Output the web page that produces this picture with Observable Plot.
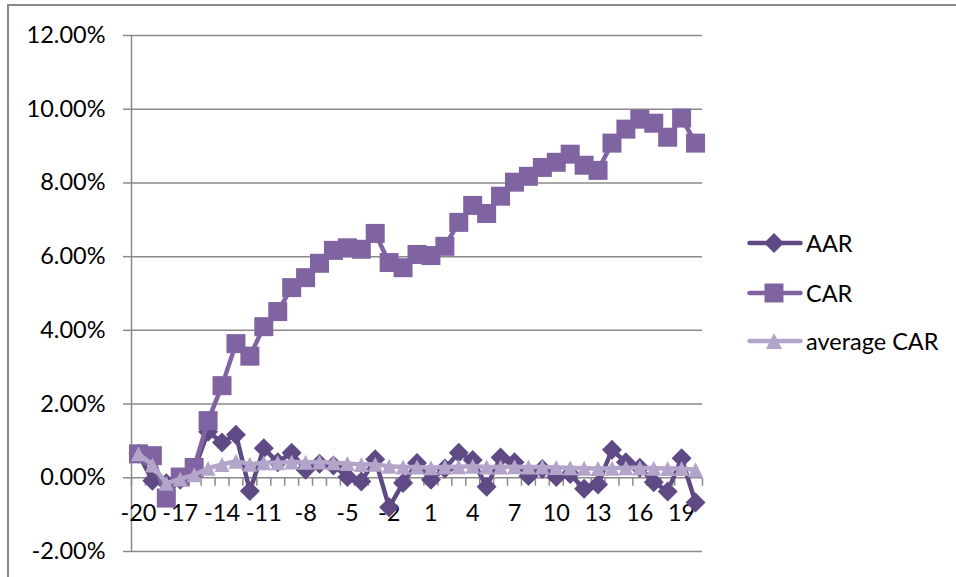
<!DOCTYPE html>
<html>
<head>
<meta charset="utf-8">
<script src="https://cdn.jsdelivr.net/npm/d3@7"></script>
<script src="https://cdn.jsdelivr.net/npm/@observablehq/plot@0.6"></script>
<style>
  html, body { margin: 0; padding: 0; background: #fff; overflow: hidden; }
  #chart { position: relative; width: 956px; height: 577px; font-family: Lato, "Open Sans", sans-serif; }
  #chart svg.plot { position: absolute; left: 0; top: 0; }
  #border { position: absolute; left: 7px; top: 4px; width: 1200px; height: 1200px; border: 2px solid #8a8a8a; pointer-events: none; }
  #legend { position: absolute; left: 747px; top: 0; }
  .item { position: absolute; left: 0; display: flex; align-items: center; white-space: nowrap; font-size: 23.5px; color: #000; }
  .item svg { display: block; margin-right: 3px; }
</style>
</head>
<body>
<div id="chart">
  <div id="border"></div>
  <div id="legend"></div>
</div>
<script>
// Event window (days relative to the event)
const days = d3.range(-20, 21);

// Average abnormal return, % per day
const aar = [0.65, -0.08, -0.15, -0.05, 0.22, 1.25, 0.96, 1.17, -0.36, 0.80,
             0.42, 0.68, 0.22, 0.38, 0.33, 0.02, -0.10, 0.50, -0.80, -0.14,
             0.40, -0.05, 0.25, 0.68, 0.48, -0.24, 0.55, 0.42, 0.05, 0.24,
             0.02, 0.10, -0.30, -0.18, 0.76, 0.42, 0.27, -0.12, -0.37, 0.53, -0.67];

// Cumulative abnormal return, %
const car = [0.65, 0.60, -0.55, 0.02, 0.28, 1.55, 2.50, 3.64, 3.30, 4.10,
             4.51, 5.16, 5.43, 5.82, 6.17, 6.24, 6.20, 6.63, 5.84, 5.70,
             6.06, 6.03, 6.28, 6.93, 7.39, 7.17, 7.64, 8.02, 8.18, 8.42,
             8.56, 8.78, 8.48, 8.34, 9.08, 9.46, 9.73, 9.62, 9.24, 9.76, 9.08];

// Average CAR, %
const avgCar = [0.65, 0.35, -0.15, -0.03, 0.08, 0.26, 0.36, 0.45, 0.37, 0.41,
                0.41, 0.43, 0.42, 0.43, 0.41, 0.39, 0.36, 0.37, 0.31, 0.29,
                0.29, 0.27, 0.29, 0.30, 0.31, 0.29, 0.29, 0.30, 0.29, 0.29,
                0.28, 0.27, 0.26, 0.25, 0.26, 0.27, 0.27, 0.26, 0.25, 0.25, 0.22];

const yTicks = [-2, 0, 2, 4, 6, 8, 10, 12];
const xLabels = [-20, -17, -14, -11, -8, -5, -2, 1, 4, 7, 10, 13, 16, 19];

const seriesNames = ["AAR", "CAR", "average CAR"];
const colors = {"AAR": "#604a85", "CAR": "#8064a2", "average CAR": "#b3a5c9"};

const rows = days.map((d, i) => ({day: d, aar: aar[i], car: car[i], avg: avgCar[i]}));
const boundaries = d3.range(-20.5, 21, 1);

// Marker shapes
const square = {draw(ctx, size) { const h = Math.sqrt(size / Math.PI); ctx.rect(-h, -h, 2 * h, 2 * h); }};
const diamond = {draw(ctx, size) { const h = Math.sqrt(size / Math.PI); ctx.moveTo(0, -h); ctx.lineTo(h, 0); ctx.lineTo(0, h); ctx.lineTo(-h, 0); ctx.closePath(); }};
const triangle = {draw(ctx, size) { const h = Math.sqrt(size / Math.PI); ctx.moveTo(0, -h); ctx.lineTo(h, h); ctx.lineTo(-h, h); ctx.closePath(); }};
const downTick = {draw(ctx) { ctx.moveTo(0, 0); ctx.lineTo(0, 8); }};

const grid = "#8a8a8a";
const lw = 4.5;
const fs = 23.5;

const plot = Plot.plot({
  width: 956,
  height: 577,
  marginLeft: 131,
  marginRight: 254,
  marginTop: 35,
  marginBottom: 26,
  style: {fontFamily: "Lato, 'Open Sans', sans-serif", fontSize: fs + "px", color: "#000", background: "transparent", overflow: "visible"},
  x: {type: "linear", domain: [-20.5, 20.5], axis: null},
  y: {type: "linear", domain: [-2, 12], axis: null},
  marks: [
    Plot.gridY(yTicks, {stroke: grid, strokeOpacity: 1, strokeWidth: 1.5}),
    Plot.axisY(yTicks, {tickSize: 8, tickPadding: 18, stroke: grid, strokeWidth: 1.5, tickFormat: d => d.toFixed(2) + "%", fontSize: fs, fill: "#000"}),
    Plot.ruleX([-20.5], {stroke: grid, strokeWidth: 1.5}),
    Plot.dot(boundaries, {x: d => d, y: () => 0, symbol: downTick, stroke: grid, strokeWidth: 1.5}),
    Plot.text(xLabels, {x: d => d, y: () => 0, text: d => String(d), dy: 36, fontSize: fs, fill: "#000"}),

    Plot.line(rows, {x: "day", y: "aar", stroke: colors["AAR"], strokeWidth: lw, strokeLinejoin: "round", strokeLinecap: "round"}),
    Plot.dot(rows, {x: "day", y: "aar", symbol: diamond, r: 10, fill: colors["AAR"]}),

    Plot.line(rows, {x: "day", y: "car", stroke: colors["CAR"], strokeWidth: lw, strokeLinejoin: "round", strokeLinecap: "round"}),
    Plot.dot(rows, {x: "day", y: "car", symbol: square, r: 9.5, fill: colors["CAR"]}),

    Plot.line(rows, {x: "day", y: "avg", stroke: colors["average CAR"], strokeWidth: lw, strokeLinejoin: "round", strokeLinecap: "round"}),
    Plot.dot(rows, {x: "day", y: "avg", symbol: triangle, r: 7.5, fill: colors["average CAR"]})
  ]
});
plot.classList.add("plot");
document.getElementById("chart").insertBefore(plot, document.getElementById("border"));

// Legend
const legend = document.getElementById("legend");
const legendTops = [243, 293, 341];
const shapes = {
  "AAR": '<path d="M27,-10 L37,0 L27,10 L17,0 Z"/>',
  "CAR": '<rect x="17.5" y="-9.5" width="19" height="19"/>',
  "average CAR": '<path d="M27,-8 L35,8 L19,8 Z"/>'
};
seriesNames.forEach((name, i) => {
  const item = document.createElement("div");
  item.className = "item";
  item.style.top = (legendTops[i] - 14) + "px";
  const c = colors[name];
  item.innerHTML =
    `<svg width="56" height="28" viewBox="0 -14 56 28">` +
    `<line x1="2.5" x2="53.5" y1="0" y2="0" stroke="${c}" stroke-width="${lw}" stroke-linecap="round"/>` +
    `<g fill="${c}">${shapes[name]}</g></svg>` +
    `<span>${name}</span>`;
  legend.appendChild(item);
});
</script>
</body>
</html>
